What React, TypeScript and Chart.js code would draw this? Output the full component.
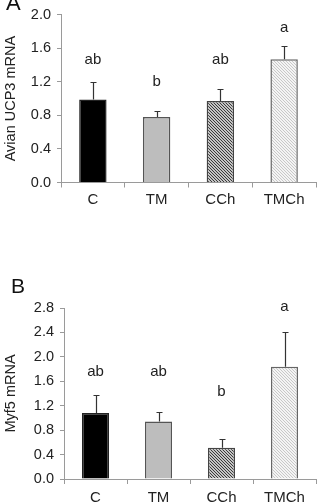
import React, { useEffect, useRef } from "react";
import { Chart, registerables } from "chart.js";

Chart.register(...registerables);

const categories = ["C", "TM", "CCh", "TMCh"];

const ucp3Means = [0.99, 0.78, 0.97, 1.47];
const ucp3ErrTop = [1.2, 0.85, 1.12, 1.63];
const ucp3Letters = ["ab", "b", "ab", "a"];
const ucp3LetterY = [1.46, 1.2, 1.46, 1.84];
const ucp3Max = 2.0;

const myf5Means = [1.08, 0.94, 0.51, 1.84];
const myf5ErrTop = [1.38, 1.09, 0.65, 2.4];
const myf5Letters = ["ab", "ab", "b", "a"];
const myf5LetterY = [1.76, 1.76, 1.42, 2.82];
const myf5Max = 2.8;

const tickStep = 0.4;
const FONT = "'Liberation Sans', Arial, sans-serif";

function makeHatch(bg: string, line: string, size: number, lw: number) {
  const c = document.createElement("canvas");
  c.width = size;
  c.height = size;
  const ctx = c.getContext("2d")!;
  ctx.fillStyle = bg;
  ctx.fillRect(0, 0, size, size);
  ctx.strokeStyle = line;
  ctx.lineWidth = lw;
  ctx.beginPath();
  ctx.moveTo(-1, -1);
  ctx.lineTo(size + 1, size + 1);
  ctx.moveTo(-1, size - 1);
  ctx.lineTo(1, size + 1);
  ctx.moveTo(size - 1, -1);
  ctx.lineTo(size + 1, 1);
  ctx.stroke();
  return ctx.createPattern(c, "repeat")!;
}

type PanelProps = {
  panel: string;
  panelX: number;
  panelY: number;
  panelSize: number;
  title: string;
  means: number[];
  errTop: number[];
  letters: string[];
  letterY: number[];
  max: number;
  height: number;
  padTop: number;
  yWidth: number;
  xHeight: number;
  xPad: number;
};

function Panel(p: PanelProps) {
  const ref = useRef<HTMLCanvasElement | null>(null);
  useEffect(() => {
    const canvas = ref.current!;
    const hatchDark = makeHatch("#c4c4c4", "#3a3a3a", 3, 1);
    const hatchLight = makeHatch("#f4f4f4", "#c8c8c8", 3, 1);
    const fills: any[] = ["#000000", "#bdbdbd", hatchDark, hatchLight];
    const borders = ["#222222", "#555555", "#444444", "#666666"];

    const annot = {
      id: "annot",
      afterDatasetsDraw(chart: any) {
        const ctx = chart.ctx;
        const meta = chart.getDatasetMeta(0);
        const ys = chart.scales.y;
        ctx.save();
        ctx.strokeStyle = "#333";
        ctx.lineWidth = 1.2;
        meta.data.forEach((bar: any, i: number) => {
          const x = Math.round(bar.x) + 0.5;
          const y0 = ys.getPixelForValue(p.means[i]);
          const y1 = Math.round(ys.getPixelForValue(p.errTop[i])) + 0.5;
          ctx.beginPath();
          ctx.moveTo(x, y0);
          ctx.lineTo(x, y1);
          ctx.moveTo(x - 3, y1);
          ctx.lineTo(x + 3, y1);
          ctx.stroke();
        });
        ctx.fillStyle = "#222";
        ctx.font = `15px ${FONT}`;
        ctx.textAlign = "center";
        ctx.textBaseline = "middle";
        meta.data.forEach((bar: any, i: number) => {
          ctx.fillText(p.letters[i], bar.x, ys.getPixelForValue(p.letterY[i]));
        });
        ctx.font = `${p.panelSize}px ${FONT}`;
        ctx.textAlign = "left";
        ctx.textBaseline = "alphabetic";
        ctx.fillStyle = "#111";
        ctx.fillText(p.panel, p.panelX, p.panelY);
        ctx.restore();
      },
    };

    const chart = new Chart(canvas, {
      type: "bar",
      data: {
        labels: categories,
        datasets: [
          {
            data: p.means,
            backgroundColor: fills,
            borderColor: borders,
            borderWidth: 1.5,
            borderSkipped: "bottom",
            barPercentage: 0.43,
            categoryPercentage: 1,
          },
        ],
      },
      options: {
        responsive: false,
        animation: false,
        layout: { padding: { top: p.padTop, left: 0, right: 4, bottom: 0 } },
        plugins: { legend: { display: false }, tooltip: { enabled: false } },
        scales: {
          x: {
            afterFit: (s: any) => {
              s.height = p.xHeight;
            },
            grid: {
              display: true,
              offset: true,
              drawOnChartArea: false,
              drawTicks: true,
              tickLength: 5,
              color: "#9a9a9a",
            },
            border: { color: "#9a9a9a", width: 1 },
            ticks: { color: "#222", font: { family: FONT, size: 15 }, padding: p.xPad },
          },
          y: {
            min: 0,
            max: p.max,
            afterFit: (s: any) => {
              s.width = p.yWidth;
            },
            grid: {
              display: true,
              drawOnChartArea: false,
              drawTicks: true,
              tickLength: 4,
              color: "#9a9a9a",
            },
            border: { color: "#9a9a9a", width: 1 },
            ticks: {
              stepSize: tickStep,
              color: "#222",
              font: { family: FONT, size: 14.5 },
              padding: 6,
              callback: (v: any) => Number(v).toFixed(1),
            },
            title: {
              display: true,
              text: p.title,
              color: "#222",
              font: { family: FONT, size: 14.5 },
              padding: { top: 2, bottom: 0 },
            },
          },
        },
      },
      plugins: [annot],
    });
    return () => chart.destroy();
  }, []);
  return (
    <canvas
      ref={ref}
      width={320}
      height={p.height}
      style={{ display: "block", width: 320, height: p.height }}
    />
  );
}

export default function App() {
  return (
    <div style={{ position: "absolute", left: 0, top: 0, width: 320, height: 503, background: "#fff", overflow: "hidden" }}>
      <Panel
        panel="A"
        panelX={6}
        panelY={10}
        panelSize={22}
        title="Avian UCP3 mRNA"
        means={ucp3Means}
        errTop={ucp3ErrTop}
        letters={ucp3Letters}
        letterY={ucp3LetterY}
        max={ucp3Max}
        height={245}
        padTop={11}
        yWidth={61}
        xHeight={62.5}
        xPad={3}
      />
      <Panel
        panel="B"
        panelX={11}
        panelY={48}
        panelSize={21}
        title="Myf5 mRNA"
        means={myf5Means}
        errTop={myf5ErrTop}
        letters={myf5Letters}
        letterY={myf5LetterY}
        max={myf5Max}
        height={258}
        padTop={63}
        yWidth={64}
        xHeight={24}
        xPad={5}
      />
    </div>
  );
}
